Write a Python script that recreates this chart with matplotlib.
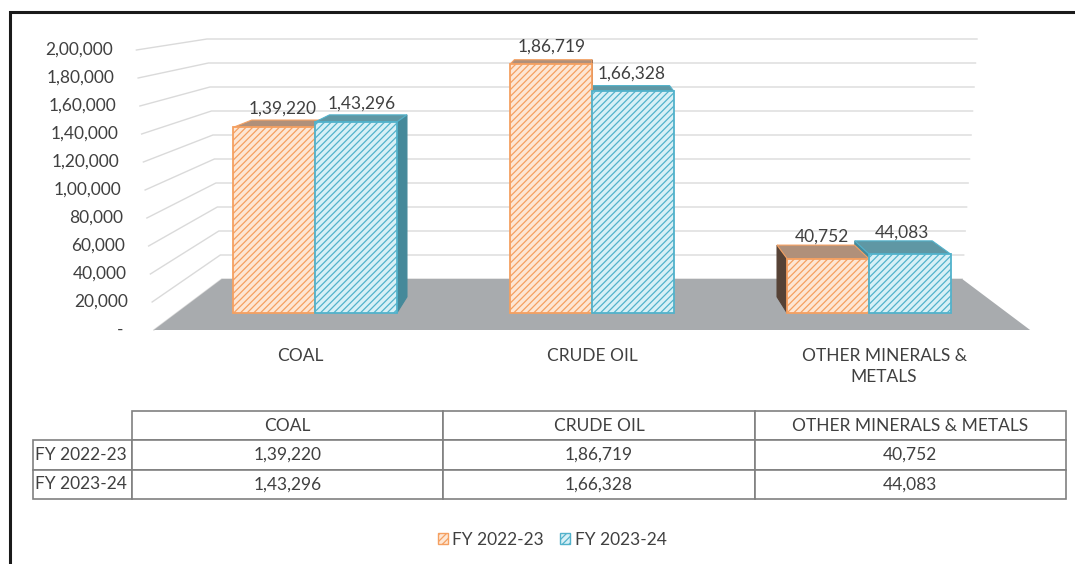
import numpy as np
import matplotlib.pyplot as plt
from matplotlib.patches import Polygon, Patch, Rectangle
from matplotlib.table import Table

plt.rcParams['font.family'] = ['Lato', 'DejaVu Sans']
plt.rcParams['hatch.linewidth'] = 0.9

# ---- data ----
categories = ['COAL', 'CRUDE OIL', 'OTHER MINERALS & METALS']
axis_labels = ['COAL', 'CRUDE OIL', 'OTHER MINERALS &\nMETALS']
series = ['FY 2022-23', 'FY 2023-24']
fy2223 = [139220, 186719, 40752]
fy2324 = [143296, 166328, 44083]
yticks = np.arange(0, 200001, 20000)

TXT = '#404040'
ORANGE_FACE, ORANGE_EDGE = '#fde6d4', '#f5a061'
BLUE_FACE, BLUE_EDGE = '#d7f0f6', '#52b2cb'
ORANGE_TOP, ORANGE_SIDE = '#b0907a', '#564236'
BLUE_TOP, BLUE_SIDE = '#5f97a4', '#45899a'
FLOOR = '#a8abae'
GRID = '#dadada'
FS = 12.5


def fmt_in(v):
    # indian digit grouping, zero shown as dash
    v = int(round(v))
    if v == 0:
        return '-'
    s = str(v)
    if len(s) <= 3:
        return s
    head, tail = s[:-3], s[-3:]
    parts = []
    while len(head) > 2:
        parts.insert(0, head[-2:])
        head = head[:-2]
    if head:
        parts.insert(0, head)
    return ','.join(parts + [tail])


# ---- fake 3d perspective ----
T0, T1 = 0.333, 0.65          # bar front / back depth
CX = 592                       # horizontal vanishing centre (px)
X0, XS = 315, 277              # px of category 0, px per category (at bar front)
LEAN = 2.0e-7


def py_of(v, t):
    return (1 - t) * (330 - 1.4e-3 * v) + t * (279 - 1.2e-3 * v)


def shrink(t):
    return 1 - 0.155 * t


def proj(xd, v, t, lean=0.0):
    px = CX + (X0 + XS * xd - CX) * shrink(t) / shrink(T0)
    px = CX + (px - CX) * (1 + lean * v)
    return (px - X0) / XS, (313 - py_of(v, t)) * 750


fig = plt.figure(figsize=(10.75, 5.64), dpi=100)
ax = fig.add_axes([0, 0, 1, 1])
ax.axis('off')
ax.set_xlim(-X0 / XS, (1075 - X0) / XS)
ax.set_ylim(-188250, 234750)

# walls' gridlines
for v in yticks:
    pts = np.array([proj(-0.5, v, 0, LEAN), proj(-0.5, v, 1, LEAN), proj(2.5, v, 1, LEAN)])
    ax.plot(pts[:, 0], pts[:, 1], color=GRID, lw=1, zorder=1)
    tx, ty = proj(-0.5, v, 0, LEAN)
    ax.annotate(fmt_in(v), (tx, ty), xytext=(-17 if v else -22, 0), textcoords='offset points',
                ha='right', va='center', fontsize=FS, color=TXT)

# floor
floor = [proj(-0.5, 0, 0), proj(2.5, 0, 0), proj(2.5, 0, 1), proj(-0.5, 0, 1)]
ax.add_patch(Polygon(floor, closed=True, facecolor=FLOOR, edgecolor='none', zorder=2))

x = np.arange(len(categories))
w = 0.295
offs = [-0.148, 0.148]
styles = [(ORANGE_FACE, ORANGE_EDGE, ORANGE_TOP, ORANGE_SIDE),
          (BLUE_FACE, BLUE_EDGE, BLUE_TOP, BLUE_SIDE)]

for vals, off, (face, edge, top, side) in zip([fy2223, fy2324], offs, styles):
    ax.bar(x + off, vals, width=w, color=face, edgecolor=edge, hatch='/////',
           lw=1.3, zorder=5)
    for xi, v in zip(x, vals):
        xl, xr = xi + off - w / 2, xi + off + w / 2
        if X0 + XS * xr < CX:
            sd = [proj(xr, 0, T0), proj(xr, v, T0), proj(xr, v, T1), proj(xr, 0, T1)]
            ax.add_patch(Polygon(sd, facecolor=side, edgecolor=side, lw=0.8, zorder=3))
        if X0 + XS * xl > CX:
            sd = [proj(xl, 0, T0), proj(xl, v, T0), proj(xl, v, T1), proj(xl, 0, T1)]
            ax.add_patch(Polygon(sd, facecolor=side, edgecolor=side, lw=0.8, zorder=3))
        tp = [proj(xl, v, T0), proj(xr, v, T0), proj(xr, v, T1), proj(xl, v, T1)]
        ax.add_patch(Polygon(tp, facecolor=top, edgecolor=edge, lw=0.8, zorder=4))
        lx, ly = proj(xi + off, v, (T0 + T1) / 2)
        ax.annotate(fmt_in(v), (lx, ly), xytext=(0, 11), textcoords='offset points',
                    ha='center', va='center', fontsize=FS, color=TXT, zorder=7)

# category labels under the floor
for xi, lab in zip(x, axis_labels):
    cx, cy = proj(xi, 0, 0)
    ax.annotate(lab, (cx, cy), xytext=(0, -13), textcoords='offset points',
                ha='center', va='top', fontsize=FS, color=TXT, linespacing=1.4)

# data table
tb = Table(ax, bbox=[33 / 1075, 1 - 499 / 564, (1066 - 33) / 1075, 88 / 564])
for c, name in enumerate(categories):
    tb.add_cell(0, c + 1, 311, 1, text=name, loc='center')
for r, (lab, vals) in enumerate(zip(series, [fy2223, fy2324])):
    cell = tb.add_cell(r + 1, 0, 99, 1, text=lab, loc='left')
    cell.PAD = 0.02
    for c, v in enumerate(vals):
        tb.add_cell(r + 1, c + 1, 311, 1, text=fmt_in(v), loc='center')
tb.auto_set_font_size(False)
tb.set_fontsize(FS)
for cell in tb.get_celld().values():
    cell.set_edgecolor('#808080')
    cell.set_linewidth(1.2)
    cell.get_text().set_color(TXT)
ax.add_table(tb)

# legend
handles = [Patch(facecolor=ORANGE_FACE, edgecolor=ORANGE_EDGE, hatch='/////', label=series[0]),
           Patch(facecolor=BLUE_FACE, edgecolor=BLUE_EDGE, hatch='/////', label=series[1])]
leg = ax.legend(handles=handles, loc='center', bbox_to_anchor=(552 / 1075, 1 - 540 / 564),
                ncol=2, frameon=False, handlelength=0.6, handleheight=0.6,
                handletextpad=0.25, columnspacing=0.9, fontsize=FS)
for t in leg.get_texts():
    t.set_color(TXT)

# outer frame (only top and left show)
fig.add_artist(Rectangle((10 / 1075, -0.05), 1.1, 1 - 12 / 564 + 0.05,
                         transform=fig.transFigure, fill=False, lw=2.2, edgecolor='#1a1a1a'))

fig.savefig('out.png', dpi=100)
